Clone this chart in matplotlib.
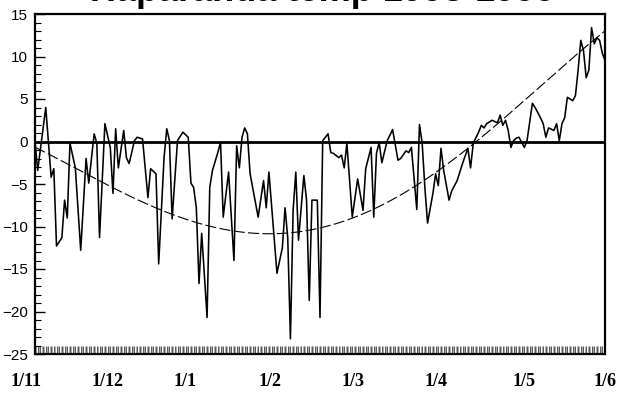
import numpy as np
import matplotlib
matplotlib.use("Agg")
import matplotlib.pyplot as plt
from matplotlib.ticker import MultipleLocator
from matplotlib.transforms import blended_transform_factory

# Daily temperature readings, day 0 = 1 November
days = [0, 1, 4, 6, 7, 8, 10, 11, 12, 13, 15, 17, 19, 20, 22, 23, 24, 26, 28, 29,
        30, 31, 33, 34, 35, 37, 38, 40, 42, 43, 45, 46, 48, 49, 50, 51, 53, 55, 57, 58,
        59, 60, 61, 62, 64, 65, 66, 68, 69, 70, 72, 74, 75, 76, 77, 78, 79, 80, 83, 85,
        86, 87, 90, 92, 93, 94, 95, 96, 97, 98, 100, 101, 102, 103, 105, 106, 107, 108, 109, 110,
        111, 113, 114, 115, 116, 118, 120, 122, 123, 125, 126, 127, 128, 129, 131, 133, 135, 136, 138, 139,
        140, 142, 143, 144, 145, 146, 148, 149, 150, 151, 152, 154, 155, 157, 159, 161, 162, 163, 165, 166,
        167, 168, 170, 172, 173, 174, 175, 176, 177, 178, 179, 180, 181, 182, 183, 185, 186, 188, 189, 190,
        191, 193, 194, 195, 196, 197, 198, 200, 201, 202, 203, 204, 205, 206, 207, 208, 209, 210, 211, 212]
temps = [0.0, -3.4, 4.0, -4.2, -3.2, -12.3, -11.3, -6.9, -9.0, -0.2, -3.1, -12.8, -2.0, -4.9, 0.9, -0.2, -11.3, 2.1, -0.7, -6.1,
         1.5, -3.1, 1.3, -1.9, -2.6, 0.1, 0.5, 0.3, -6.6, -3.2, -3.8, -14.4, -1.9, 1.5, 0.1, -9.1, 0.1, 1.1, 0.5, -4.9,
         -5.4, -7.8, -16.7, -10.8, -20.7, -5.4, -3.4, -1.3, -0.1, -8.9, -3.6, -14.0, -0.5, -3.1, 0.5, 1.6, 0.9, -3.8, -8.9, -4.6,
         -7.8, -3.6, -15.5, -12.5, -7.8, -11.3, -23.2, -8.1, -3.6, -11.6, -4.0, -6.9, -18.7, -6.9, -6.9, -20.7, 0.1, 0.5, 0.9, -1.3,
         -1.4, -1.9, -1.6, -3.1, -0.2, -8.9, -4.4, -8.1, -3.2, -0.7, -8.9, -1.4, -0.1, -2.5, 0.1, 1.4, -2.2, -2.0, -1.1, -1.3,
         -0.7, -8.0, 2.0, -0.2, -5.4, -9.6, -6.1, -3.8, -5.2, -0.8, -3.4, -6.9, -5.8, -4.6, -2.6, -0.8, -3.1, -0.2, 1.1, 1.9,
         1.6, 2.1, 2.5, 2.2, 3.1, 1.9, 2.5, 1.3, -0.7, 0.1, 0.4, 0.5, -0.1, -0.7, 0.1, 4.5, 4.0, 2.8, 2.1, 0.5,
         1.6, 1.3, 2.1, 0.1, 2.1, 2.8, 5.2, 4.8, 5.4, 8.4, 11.9, 10.7, 7.5, 8.4, 13.4, 11.5, 12.2, 11.9, 10.4, 9.5]

# Seasonal trend readings
trend_days = [0, 14, 29, 41, 59, 73, 85, 92, 102, 117, 129, 140, 154, 163, 173, 185, 203, 211]
trend_vals = [-0.5, -3.1, -5.8, -7.2, -9.1, -10.2, -10.8, -11.1, -10.8, -8.9, -7.3, -5.5, -3.1, -0.2, 2.5, 6.0, 10.4, 12.8]

month_labels = ["1/11", "1/12", "1/1", "1/2", "1/3", "1/4", "1/5", "1/6"]
label_days = [-3.3, 26.8, 55.8, 87.4, 118.2, 149.0, 181.8, 212.0]

fig = plt.figure(figsize=(6.19, 3.96), dpi=100)
ax = fig.add_axes([35 / 619, 42 / 396, 570 / 619, 340 / 396])

ax.plot(days, temps, color="black", lw=1.15, zorder=3)
ax.axhline(0, color="black", lw=2.0, zorder=4)

coef = np.polyfit(trend_days, trend_vals, 4)
grid = np.linspace(0, 212, 400)
ax.plot(grid, np.polyval(coef, grid), color="black", lw=0.8,
        dashes=(10, 3), zorder=2)

ax.set_xlim(0, 212)
ax.set_ylim(-25, 15)

for s in ax.spines.values():
    s.set_linewidth(1.6)

ax.yaxis.set_major_locator(MultipleLocator(5))
ax.yaxis.set_minor_locator(MultipleLocator(1))
ax.tick_params(axis="y", which="major", direction="in", length=7, width=1.0,
               pad=5, labelsize=11, left=True, right=False)
ax.tick_params(axis="y", which="minor", direction="in", length=4, width=0.8,
               left=True, right=False)
for lbl in ax.get_yticklabels():
    lbl.set_fontfamily("Liberation Sans")

# dense daily ticks along the bottom edge
ax.xaxis.set_major_locator(MultipleLocator(1))
ax.xaxis.set_minor_locator(MultipleLocator(0.5))
ax.tick_params(axis="x", which="major", direction="in", length=6, width=0.7,
               color="#555555", labelbottom=False, top=False)
ax.tick_params(axis="x", which="minor", direction="in", length=6, width=0.5,
               color="#888888", top=False)

trans = blended_transform_factory(ax.transData, ax.transAxes)
for d, lab in zip(label_days, month_labels):
    ax.text(d, -0.055, lab, transform=trans, ha="center", va="top",
            fontfamily="Liberation Serif", fontweight="bold", fontsize=13,
            clip_on=False)

fig.text(0.522, 1 - 1.0 / 396, "Haparanda temp 1998-1999", ha="center",
         va="baseline", fontfamily="Liberation Sans", fontweight="bold",
         fontsize=26)

fig.savefig("out.png", dpi=100, facecolor="white")
